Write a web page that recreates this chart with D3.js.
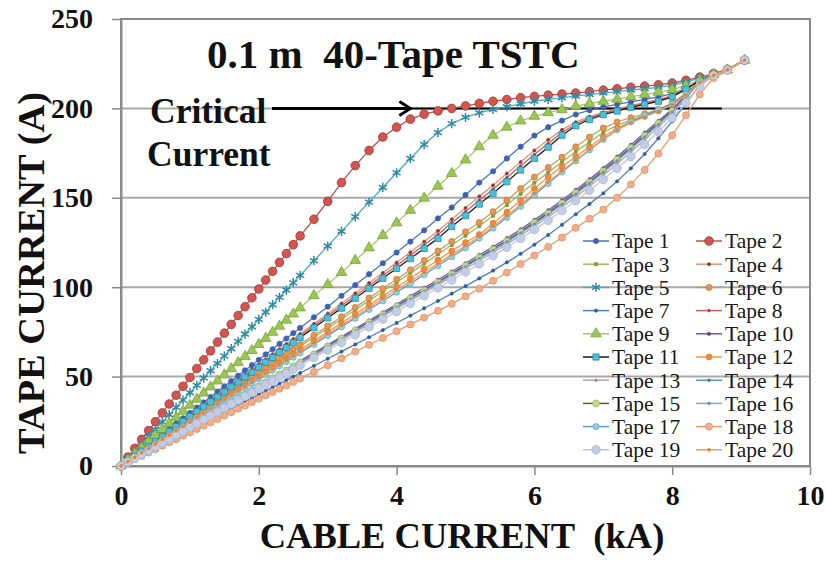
<!DOCTYPE html>
<html>
<head>
<meta charset="utf-8">
<script src="https://cdn.jsdelivr.net/npm/d3@7"></script>
<style>
  body { margin: 0; background: #fff; }
  svg { display: block; }
</style>
</head>
<body>
<svg id="chart" width="826" height="562"></svg>
<script>
// Cable current (kA) at each measurement step
const cableCurrent = [0, 0.1, 0.2, 0.3, 0.4, 0.5, 0.6, 0.7, 0.8, 0.9, 1.0, 1.1, 1.2, 1.3, 1.4, 1.5, 1.6, 1.7, 1.8, 1.9, 2.0, 2.1, 2.2, 2.3, 2.4, 2.5, 2.6,
  2.8, 3.0, 3.2, 3.4, 3.6, 3.8, 4.0, 4.2, 4.4, 4.6, 4.8, 5.0, 5.2, 5.4, 5.6, 5.8, 6.0, 6.2, 6.4, 6.6, 6.8, 7.0, 7.2, 7.4, 7.6, 7.8, 8.0, 8.2, 8.4, 8.6, 8.8, 9.05];

// Tape currents (A) for each tape, one value per cable current step
const tape1 = [0, 3, 5.9, 8.9, 11.9, 14.9, 17.8, 20.8, 23.8, 26.7, 29.7, 32.7, 35.6, 38.6, 41.6, 44.6, 47.5, 50.5, 53.5, 56.4, 59.4, 62.4, 65.3, 68.3, 71.3, 74.3, 77.2,
  83.2, 89.1, 95.2, 101.2, 107.3, 113.4, 119.4, 125.5, 131.8, 138.5, 144.6, 151.6, 158.5, 164.8, 172, 178.6, 184.8, 189.5, 193.2, 196.6, 199, 200.8, 202.3, 203.7, 205.1, 206.5, 208.2, 211.2, 215.6, 219, 221.5, 227];
const tape2 = [0, 5, 9.9, 14.9, 19.8, 24.8, 29.7, 34.7, 39.6, 44.6, 49.5, 54.5, 59.4, 64.4, 69.3, 74.3, 79.2, 84.2, 89.1, 94.1, 99, 104, 108.9, 113.9, 118.8, 123.8, 128.7,
  138, 148, 158.5, 168, 176.5, 184, 189.5, 194, 196.8, 198.6, 200, 201.4, 202.8, 204, 205, 206, 206.7, 207.4, 208, 208.6, 209.4, 210.2, 211, 211.8, 212.5, 213.2, 214.2, 215.7, 217.5, 219.5, 221.8, 227];
const tape3 = [0, 2.6, 5.1, 7.7, 10.3, 12.9, 15.4, 18, 20.6, 23.1, 25.7, 28.3, 30.8, 33.4, 36, 38.6, 41.1, 43.7, 46.3, 48.8, 51.4, 54, 56.5, 59.1, 61.7, 64.3, 66.8,
  72, 77.1, 82.2, 87.4, 92.5, 97.7, 102.8, 108, 113.2, 118.4, 123.6, 128.8, 134.2, 140, 146, 152.2, 158.4, 164.2, 170, 175.8, 181.3, 186.5, 190.5, 193.5, 196.2, 199, 202.5, 208, 214.8, 218.7, 221.5, 227];
const tape4 = [0, 2.8, 5.7, 8.5, 11.4, 14.2, 17, 19.9, 22.7, 25.6, 28.4, 31.2, 34.1, 36.9, 39.8, 42.6, 45.4, 48.3, 51.1, 54, 56.8, 59.6, 62.5, 65.3, 68.2, 71, 73.8,
  79.5, 85.2, 90.9, 96.6, 102.3, 108, 113.8, 119.6, 125.5, 131.5, 138, 144.3, 150.8, 157, 163.6, 170, 176.5, 182.5, 188, 192.3, 195.4, 197.8, 199.8, 201.6, 203.3, 205, 207.3, 211, 215.6, 218.9, 221.5, 227];
const tape5 = [0, 4.1, 8.2, 12.3, 16.4, 20.5, 24.6, 28.7, 32.8, 36.9, 41, 45.1, 49.2, 53.3, 57.4, 61.5, 65.6, 69.7, 73.8, 77.9, 82, 86.1, 90.2, 94.3, 98.4, 102.5, 106.6,
  114.8, 123, 131.2, 139.4, 147.6, 155.8, 164, 172, 179.8, 186.5, 191.5, 195, 197.5, 199.4, 201, 202.5, 204, 205, 206, 206.9, 207.8, 208.6, 209.4, 210.2, 211, 211.8, 213, 214.8, 217, 219.2, 221.6, 227];
const tape6 = [0, 2.6, 5.2, 7.8, 10.4, 13.1, 15.7, 18.3, 20.9, 23.5, 26.1, 28.7, 31.3, 33.9, 36.5, 39.2, 41.8, 44.4, 47, 49.6, 52.2, 54.8, 57.4, 60, 62.6, 65.3, 67.9,
  73.1, 78.3, 83.5, 88.7, 94, 99.2, 104.4, 109.7, 115, 120.3, 125.6, 131, 136.2, 142.2, 148.6, 155.2, 161.6, 167, 172.7, 178.5, 184, 189, 192.4, 194.8, 197, 199.5, 203, 208.5, 215, 218.8, 221.5, 227];
const tape7 = [0, 2, 4, 6, 8, 10, 12, 14, 16, 18, 20, 22, 24, 26, 28, 30, 32, 34, 36, 38, 40, 42, 44, 46, 48, 50, 52,
  56, 60, 64, 68, 72, 76, 80, 84.1, 88.2, 92.3, 96.4, 100.6, 104.9, 109.3, 113.9, 118.7, 123.8, 129.2, 134.9, 140.8, 146.6, 152.5, 159.2, 166.5, 174.5, 183.3, 192.7, 202.8, 213, 218.2, 221.4, 227];
const tape8 = [0, 2.8, 5.6, 8.4, 11.2, 14, 16.8, 19.6, 22.4, 25.2, 28, 30.8, 33.6, 36.4, 39.2, 42, 44.8, 47.6, 50.4, 53.2, 56, 58.8, 61.6, 64.4, 67.2, 70, 72.8,
  78.4, 84, 89.6, 95.2, 100.8, 106.4, 112, 117.8, 123.6, 129.4, 136, 142.2, 148.6, 154.8, 161.3, 167.8, 174.2, 180.4, 186.5, 191.3, 194.6, 197.2, 199.2, 201.1, 202.8, 204.5, 206.9, 210.9, 215.6, 218.9, 221.5, 227];
const tape9 = [0, 3.4, 6.8, 10.2, 13.6, 17, 20.4, 23.8, 27.2, 30.6, 34, 37.4, 40.8, 44.2, 47.6, 51, 54.4, 57.8, 61.2, 64.6, 68, 71.4, 74.8, 78.2, 81.6, 85, 88.4,
  95.3, 101.5, 108.3, 115, 122, 129, 136, 143, 149.8, 156.5, 163.6, 171.2, 178.6, 185, 189.5, 193, 195.6, 197.6, 199.3, 201.2, 202.7, 204, 205.2, 206.5, 207.8, 209, 210.5, 212.8, 216, 219, 221.5, 227];
const tape10 = [0, 2.3, 4.5, 6.8, 9, 11.3, 13.6, 15.8, 18.1, 20.3, 22.6, 24.9, 27.1, 29.4, 31.6, 33.9, 36.2, 38.4, 40.7, 42.9, 45.2, 47.5, 49.7, 52, 54.2, 56.5, 58.8,
  63.3, 67.8, 72.3, 76.8, 81.4, 85.9, 90.4, 95, 99.6, 104.2, 108.8, 113.4, 118, 122.6, 127.4, 132.4, 137.6, 143, 148.6, 154.4, 160.4, 166.6, 173, 179.6, 186.4, 193, 199.5, 207.5, 215.5, 218.9, 221.5, 227];
const tape11 = [0, 2.8, 5.5, 8.3, 11, 13.8, 16.6, 19.3, 22.1, 24.8, 27.6, 30.4, 33.1, 35.9, 38.6, 41.4, 44.2, 46.9, 49.7, 52.4, 55.2, 58, 60.7, 63.5, 66.2, 69, 71.8,
  77.3, 82.8, 88.3, 93.8, 99.4, 105, 110.5, 116, 121.7, 127.3, 134, 140, 146.5, 152.5, 159, 165.5, 172, 178.3, 185, 190.3, 193.8, 196.5, 198.5, 200.6, 202.3, 204, 206.5, 210.8, 215.6, 218.8, 221.4, 227];
const tape12 = [0, 2.5, 5, 7.5, 10, 12.5, 15, 17.5, 20, 22.5, 25, 27.5, 30, 32.5, 35, 37.5, 40, 42.5, 45, 47.5, 50, 52.5, 55, 57.5, 60, 62.5, 65,
  70, 75, 80, 85, 90, 95, 100, 105, 110.1, 115.2, 120.3, 125, 129.5, 135.8, 142, 148.6, 155.2, 161.6, 167.5, 173, 178.5, 184, 189, 192.5, 195.5, 198.6, 202.2, 207.5, 214.5, 218.6, 221.5, 227];
const tape13 = [0, 2.2, 4.4, 6.6, 8.8, 11, 13.2, 15.4, 17.6, 19.8, 22, 24.2, 26.4, 28.6, 30.8, 33, 35.2, 37.4, 39.6, 41.8, 44, 46.2, 48.4, 50.6, 52.8, 55, 57.2,
  61.6, 66, 70.4, 74.8, 79.2, 83.6, 88, 92.4, 96.8, 101.3, 105.8, 110.3, 114.8, 119.4, 124.1, 129, 134, 139.3, 144.8, 150.5, 156.5, 162.6, 169, 175.6, 182.5, 189.6, 196.8, 205.5, 214.6, 218.7, 221.5, 227];
const tape14 = [0, 2.2, 4.5, 6.7, 9, 11.2, 13.4, 15.7, 17.9, 20.2, 22.4, 24.6, 26.9, 29.1, 31.4, 33.6, 35.8, 38.1, 40.3, 42.6, 44.8, 47, 49.3, 51.5, 53.8, 56, 58.2,
  62.7, 67.2, 71.7, 76.2, 80.6, 85.1, 89.6, 94.1, 98.6, 103.2, 107.8, 112.4, 117, 121.6, 126.4, 131.4, 136.6, 142, 147.6, 153.4, 159.4, 165.6, 172, 178.6, 185.4, 192.2, 198.9, 207, 215.2, 218.8, 221.5, 227];
const tape15 = [0, 2.2, 4.5, 6.7, 8.9, 11.2, 13.4, 15.6, 17.8, 20.1, 22.3, 24.5, 26.8, 29, 31.2, 33.5, 35.7, 37.9, 40.1, 42.4, 44.6, 46.8, 49.1, 51.3, 53.5, 55.8, 58,
  62.4, 66.9, 71.4, 75.8, 80.3, 84.7, 89.2, 93.7, 98.2, 102.7, 107.3, 111.9, 116.5, 121.1, 125.8, 130.8, 136, 141.3, 146.9, 152.7, 158.7, 164.9, 171.3, 177.9, 184.7, 191.6, 198.5, 206.7, 215.1, 218.8, 221.5, 227];
const tape16 = [0, 2.2, 4.4, 6.7, 8.9, 11.1, 13.3, 15.5, 17.8, 20, 22.2, 24.4, 26.6, 28.9, 31.1, 33.3, 35.5, 37.7, 40, 42.2, 44.4, 46.6, 48.8, 51.1, 53.3, 55.5, 57.7,
  62.2, 66.6, 71, 75.5, 79.9, 84.4, 88.8, 93.2, 97.7, 102.2, 106.8, 111.3, 115.9, 120.5, 125.2, 130.2, 135.3, 140.6, 146.2, 152, 158, 164.2, 170.6, 177.2, 184, 191, 198, 206.4, 215, 218.8, 221.5, 227];
const tape17 = [0, 2.4, 4.9, 7.3, 9.7, 12.2, 14.6, 17, 19.4, 21.9, 24.3, 26.7, 29.2, 31.6, 34, 36.5, 38.9, 41.3, 43.7, 46.2, 48.6, 51, 53.5, 55.9, 58.3, 60.8, 63.2,
  68, 72.9, 77.8, 82.6, 87.5, 92.3, 97.2, 102, 107, 112, 117, 122, 127.4, 133, 139, 145.2, 151.6, 158, 164.4, 170.6, 176.8, 182.6, 188, 192.5, 196, 199.2, 202.5, 207.8, 214.5, 218.6, 221.5, 227];
const tape18 = [0, 1.9, 3.8, 5.6, 7.5, 9.4, 11.3, 13.2, 15, 16.9, 18.8, 20.7, 22.6, 24.4, 26.3, 28.2, 30.1, 32, 33.8, 35.7, 37.6, 39.5, 41.4, 43.2, 45.1, 47, 48.9,
  52.6, 56.4, 60.2, 64, 67.8, 71.6, 75.4, 79.2, 83, 86.8, 90.7, 94.9, 99.2, 103.6, 108.2, 113, 117.8, 122.6, 127.8, 133.2, 138.3, 143.4, 150, 157.5, 165.6, 174.8, 185, 196.2, 207.8, 217, 221, 227];
const tape19 = [0, 2.2, 4.3, 6.5, 8.6, 10.8, 13, 15.1, 17.3, 19.4, 21.6, 23.8, 25.9, 28.1, 30.2, 32.4, 34.6, 36.7, 38.9, 41, 43.2, 45.4, 47.5, 49.7, 51.8, 54, 56.2,
  60.5, 64.8, 69.1, 73.4, 77.8, 82.1, 86.4, 90.8, 95.2, 99.6, 104, 108.5, 113, 117.6, 122.3, 127.2, 132.2, 137.4, 142.8, 148.4, 154.2, 160.2, 166.5, 173, 179.8, 187, 194.6, 203, 212.5, 218.4, 221.5, 227];
const tape20 = [0, 2.5, 4.9, 7.4, 9.8, 12.3, 14.8, 17.2, 19.7, 22.1, 24.6, 27.1, 29.5, 32, 34.4, 36.9, 39.4, 41.8, 44.3, 46.7, 49.2, 51.7, 54.1, 56.6, 59, 61.5, 64,
  68.9, 73.8, 78.7, 83.6, 88.6, 93.5, 98.4, 103.3, 108.2, 113.2, 118.2, 123.2, 128.4, 134, 140, 146.2, 152.5, 158.8, 165, 171, 177, 182.8, 188, 192, 195.2, 198.4, 202, 207.4, 214.4, 218.5, 221.5, 227];

const tapeNames = ["Tape 1", "Tape 2", "Tape 3", "Tape 4", "Tape 5", "Tape 6", "Tape 7", "Tape 8", "Tape 9", "Tape 10",
  "Tape 11", "Tape 12", "Tape 13", "Tape 14", "Tape 15", "Tape 16", "Tape 17", "Tape 18", "Tape 19", "Tape 20"];
const tapeValues = [tape1, tape2, tape3, tape4, tape5, tape6, tape7, tape8, tape9, tape10,
  tape11, tape12, tape13, tape14, tape15, tape16, tape17, tape18, tape19, tape20];

const xTicks = [0, 2, 4, 6, 8, 10];
const yTicks = [0, 50, 100, 150, 200, 250];
const criticalCurrent = 200;     // A
const criticalLineStart = 4.2;   // kA, arrow tip
const criticalLineEnd = 8.72;    // kA

// Line and marker look of each tape series
const tapeStyles = [
  { line: "#4a74c6", shape: "circle", size: 2.6, fill: "#3d62b3", stroke: "#3d62b3" },
  { line: "#c0504d", shape: "circle", size: 4.3, fill: "#d35550", stroke: "#a8302c" },
  { line: "#9bbb59", shape: "square", size: 3, fill: "#7c9c3c", stroke: "#7c9c3c" },
  { line: "#e59470", shape: "circle", size: 1.5, fill: "#8c3a30", stroke: "#8c3a30" },
  { line: "#4bacc6", shape: "asterisk", size: 60, fill: "none", stroke: "#2f8aa3" },
  { line: "#b8a36e", shape: "circle", size: 3, fill: "#e99650", stroke: "#c77a3a" },
  { line: "#4f81bd", shape: "circle", size: 1.6, fill: "#2d5ea6", stroke: "#2d5ea6" },
  { line: "#c8606a", shape: "circle", size: 1.3, fill: "#a04050", stroke: "#a04050" },
  { line: "#a6c86a", shape: "triangle", size: 48, fill: "#9cc653", stroke: "#78a33a" },
  { line: "#7d4fa6", shape: "circle", size: 1.6, fill: "#6a3a90", stroke: "#6a3a90" },
  { line: "#1a1a1a", shape: "square", size: 6.2, fill: "#4bc0d8", stroke: "#2a8ca5" },
  { line: "#f79646", shape: "circle", size: 2.9, fill: "#f08a3a", stroke: "#e07a2a" },
  { line: "#b3a2c7", shape: "circle", size: 1.3, fill: "#9b8ab5", stroke: "#9b8ab5" },
  { line: "#4f9aa6", shape: "circle", size: 1.3, fill: "#3f7f8a", stroke: "#3f7f8a" },
  { line: "#4f6228", shape: "circle", size: 3.4, fill: "#c3d69b", stroke: "#9bbb59" },
  { line: "#8ea0c8", shape: "circle", size: 1.3, fill: "#7a8cb8", stroke: "#7a8cb8" },
  { line: "#5b9bc8", shape: "circle", size: 3, fill: "#8fd0e2", stroke: "#5fb0c8" },
  { line: "#ee9a68", shape: "circle", size: 3.5, fill: "#f2ae88", stroke: "#df9068" },
  { line: "#b9c6e4", shape: "circle", size: 4.2, fill: "#c4cde6", stroke: "#a9b6d8" },
  { line: "#f39a5a", shape: "circle", size: 1.4, fill: "#e8803a", stroke: "#e8803a" }
];

const svg = d3.select("#chart");
const serif = "'Liberation Serif', 'Times New Roman', serif";

const x = d3.scaleLinear().domain([0, 10]).range([121, 810]);
const y = d3.scaleLinear().domain([0, 250]).range([466, 19]);

// Horizontal gridlines
svg.append("g")
  .selectAll("line")
  .data(yTicks.filter(v => v > 0 && v < 250))
  .join("line")
  .attr("x1", x(0)).attr("x2", x(10))
  .attr("y1", d => y(d)).attr("y2", d => y(d))
  .attr("stroke", "#a9a9a9").attr("stroke-width", 2);

// Plot area frame
svg.append("rect")
  .attr("x", x(0)).attr("y", y(250))
  .attr("width", x(10) - x(0)).attr("height", y(0) - y(250))
  .attr("fill", "none").attr("stroke", "#8a8a8a").attr("stroke-width", 2);

// Axes
const xAxis = svg.append("g")
  .attr("transform", `translate(0,${y(0)})`)
  .call(d3.axisBottom(x).tickValues(xTicks).tickSizeInner(9).tickSizeOuter(0).tickPadding(10));
const yAxis = svg.append("g")
  .attr("transform", `translate(${x(0)},0)`)
  .call(d3.axisLeft(y).tickValues(yTicks).tickSizeInner(9).tickSizeOuter(0).tickPadding(19));

[xAxis, yAxis].forEach(g => {
  g.select(".domain").attr("stroke", "#8a8a8a").attr("stroke-width", 2);
  g.selectAll(".tick line").attr("stroke", "#8a8a8a").attr("stroke-width", 1.5);
  g.selectAll(".tick text")
    .attr("fill", "#111")
    .style("font-family", serif)
    .style("font-weight", "bold")
    .style("font-size", "28px");
});

// Axis titles
svg.append("text")
  .attr("x", 462).attr("y", 548)
  .attr("text-anchor", "middle")
  .style("font-family", serif).style("font-weight", "bold").style("font-size", "36.5px")
  .attr("fill", "#111")
  .text("CABLE CURRENT\u00a0\u00a0(kA)");

svg.append("text")
  .attr("transform", "translate(44,273) rotate(-90)")
  .attr("text-anchor", "middle")
  .style("font-family", serif).style("font-weight", "bold").style("font-size", "38.5px")
  .attr("fill", "#111")
  .text("TAPE CURRENT (A)");

// Title
svg.append("text")
  .attr("x", 207).attr("y", 68)
  .style("font-family", serif).style("font-weight", "bold").style("font-size", "41px")
  .attr("fill", "#111")
  .text("0.1 m\u00a0\u00a040-Tape TSTC");

// Critical current annotation
svg.append("text")
  .attr("x", 150).attr("y", 123)
  .style("font-family", serif).style("font-weight", "bold").style("font-size", "35.5px")
  .attr("fill", "#111")
  .text("Critical");
svg.append("text")
  .attr("x", 147).attr("y", 166)
  .style("font-family", serif).style("font-weight", "bold").style("font-size", "35.5px")
  .attr("fill", "#111")
  .text("Current");

const yc = y(criticalCurrent);
svg.append("line")
  .attr("x1", x(criticalLineStart)).attr("x2", x(criticalLineEnd))
  .attr("y1", yc).attr("y2", yc)
  .attr("stroke", "#000").attr("stroke-width", 2);

// Series lines
const line = d3.line().x(d => x(d[0])).y(d => y(d[1]));
const series = tapeNames.map((name, i) => ({
  name,
  style: tapeStyles[i],
  points: cableCurrent.map((c, k) => [c, tapeValues[i][k]])
}));

function markerPath(style) {
  if (style.shape === "circle") return d3.symbol(d3.symbolCircle, Math.PI * style.size * style.size)();
  if (style.shape === "square") return d3.symbol(d3.symbolSquare, style.size * style.size)();
  if (style.shape === "triangle") return d3.symbol(d3.symbolTriangle, style.size)();
  if (style.shape === "asterisk") return d3.symbol(d3.symbolAsterisk, style.size)();
  return null;
}

const seriesG = svg.append("g");
series.forEach(s => {
  const g = seriesG.append("g");
  g.append("path")
    .datum(s.points)
    .attr("d", line)
    .attr("fill", "none")
    .attr("stroke", s.style.line)
    .attr("stroke-width", 1.3);
  const p = markerPath(s.style);
  g.selectAll("path.m")
    .data(s.points)
    .join("path")
    .attr("class", "m")
    .attr("d", p)
    .attr("transform", d => `translate(${x(d[0])},${y(d[1])})`)
    .attr("fill", s.style.fill)
    .attr("stroke", s.style.stroke)
    .attr("stroke-width", s.style.shape === "asterisk" ? 1.5 : 0.8);
});

// Arrow pointing to the critical current level
const arrowTip = x(criticalLineStart);
svg.append("line")
  .attr("x1", 272).attr("x2", arrowTip - 1)
  .attr("y1", yc).attr("y2", yc)
  .attr("stroke", "#000").attr("stroke-width", 3);
svg.append("path")
  .attr("d", `M${arrowTip - 11},${yc - 7}L${arrowTip},${yc}L${arrowTip - 11},${yc + 7}`)
  .attr("fill", "none").attr("stroke", "#000").attr("stroke-width", 3);

// Legend, two columns
const legend = svg.append("g");
const colLine = [583, 696];
const colText = [612, 725];
series.forEach((s, i) => {
  const col = i % 2, row = Math.floor(i / 2);
  const ly = 241 + row * 23.2;
  const g = legend.append("g");
  g.append("line")
    .attr("x1", colLine[col]).attr("x2", colLine[col] + 26)
    .attr("y1", ly).attr("y2", ly)
    .attr("stroke", s.style.line).attr("stroke-width", 1.5);
  g.append("path")
    .attr("d", markerPath(s.style))
    .attr("transform", `translate(${colLine[col] + 13},${ly})`)
    .attr("fill", s.style.fill)
    .attr("stroke", s.style.stroke)
    .attr("stroke-width", s.style.shape === "asterisk" ? 1.5 : 0.8);
  g.append("text")
    .attr("x", colText[col]).attr("y", ly)
    .attr("dy", "0.34em")
    .style("font-family", serif).style("font-size", "21.5px")
    .attr("fill", "#1a1a1a")
    .text(s.name);
});
</script>
</body>
</html>
